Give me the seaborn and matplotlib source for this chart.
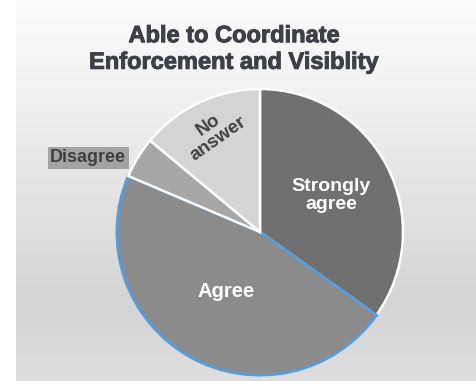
import numpy as np
import matplotlib
matplotlib.use("Agg")
import matplotlib.pyplot as plt
import matplotlib.patheffects as pe
from matplotlib.colors import LinearSegmentedColormap
import seaborn as sns

# Survey responses
categories = ["Strongly\nagree", "Agree", "Disagree", "No\nanswer"]
responses = [15, 20, 2, 6]
slice_colors = ["#707070", "#8b8b8b", "#a6a6a6", "#d4d4d4"]
title_text = "Able to Coordinate\nEnforcement and Visiblity"

sns.set_theme(style="white")
plt.rcParams["font.family"] = ["Liberation Sans", "DejaVu Sans"]

W, H = 476, 381
fig = plt.figure(figsize=(W / 100, H / 100), dpi=100)
fig.patch.set_facecolor("white")

# Chart area background: soft vertical gradient
bg = fig.add_axes([16 / W, 0, 1 - 16 / W, 1])
bg.set_axis_off()
grad = LinearSegmentedColormap.from_list(
    "panel", [(0.0, "#fcfcfc"), (0.25, "#f1f1f1"), (0.8, "#d4d4d4"), (1.0, "#dedede")]
)
bg.imshow(np.linspace(0, 1, 256).reshape(-1, 1), aspect="auto", cmap=grad,
          extent=[0, 1, 1, 0], interpolation="bicubic")

ax = fig.add_axes([0, 0, 1, 1])
ax.patch.set_alpha(0)

cx, cy, R = 260, H - 232, 143
palette = sns.color_palette(slice_colors)
wedges, _ = ax.pie(
    responses, colors=palette, startangle=90, counterclock=False,
    center=(cx, cy), radius=R, frame=True,
    wedgeprops=dict(edgecolor="white", linewidth=1.8),
)
ax.set_xlim(0, W)
ax.set_ylim(0, H)
ax.set_axis_off()

# highlight outline on the Agree slice
wedges[1].set_edgecolor("#5b9bd5")
wedges[1].set_linewidth(2.2)
wedges[1].set_zorder(wedges[0].get_zorder() + 0.5)
for w in wedges[2:]:
    w.set_zorder(wedges[1].get_zorder() + 0.5)


def mid_point(w, frac, shift=0.0):
    a = np.deg2rad((w.theta1 + w.theta2) / 2 + shift)
    return cx + frac * R * np.cos(a), cy + frac * R * np.sin(a)


label_font = dict(fontweight="bold", ha="center", va="center", zorder=10)

x, y = mid_point(wedges[0], 0.56)
ax.text(x, y, categories[0], color="white", fontsize=14, linespacing=1.05, **label_font)
x, y = mid_point(wedges[1], 0.48)
ax.text(x, y, categories[1], color="white", fontsize=14.5, **label_font)
x, y = mid_point(wedges[3], 0.77)
ax.text(x, y, categories[3], color="#404040", fontsize=13.5, rotation=35,
        linespacing=1.0, rotation_mode="anchor", **label_font)
x, y = mid_point(wedges[2], 1.31, shift=8)
ax.text(x, y, categories[2], color="#404040", fontsize=13, zorder=10,
        fontweight="bold", ha="center", va="center",
        bbox=dict(boxstyle="square,pad=0.14", facecolor="#a3a3a3", edgecolor="none"))

title_color = "#3d4046"
fig.text(234 / W, 1 - 49 / H, title_text, ha="center", va="center",
         fontsize=17, fontweight="bold", color=title_color, linespacing=1.2,
         path_effects=[pe.withStroke(linewidth=0.7, foreground=title_color)])

fig.savefig("out.png", dpi=100)
